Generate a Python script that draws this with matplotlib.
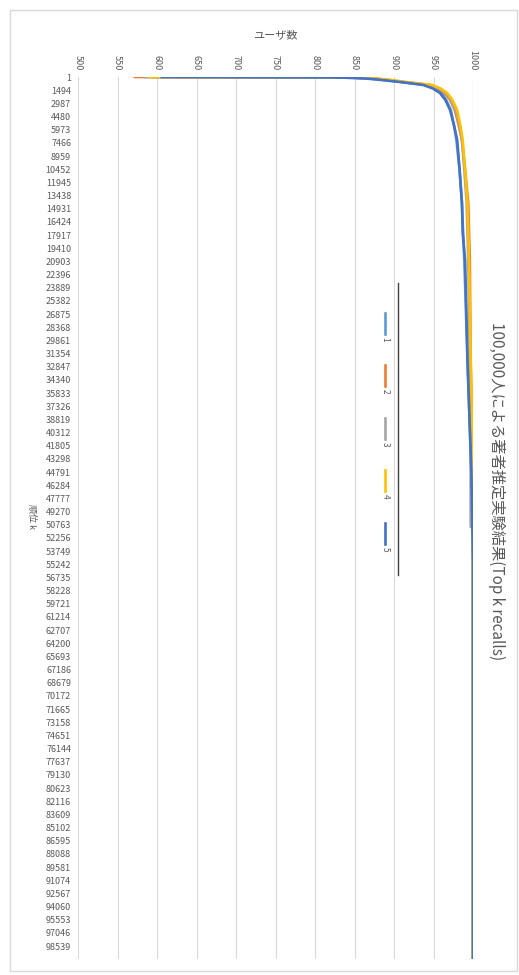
import matplotlib
matplotlib.use("Agg")
import matplotlib.pyplot as plt
from matplotlib.lines import Line2D
from matplotlib.patches import Rectangle

plt.rcParams['font.family'] = ['Noto Sans CJK JP', 'DejaVu Sans']

title = "100,000人による著者推定実験結果(Top k recalls)"
x_title = "ユーザ数"
y_title = "順位 k"

# rank k at which values were read
k1 = [1, 50, 100, 200, 300, 570, 900, 1300, 1800, 2600, 3750, 5500, 7150, 10500, 14300, 20800, 32000, 40000, 45000, 52000, 100000]
k2 = [1, 50, 100, 200, 300, 570, 900, 1300, 1800, 2600, 3750, 5500, 7150, 10500, 14300, 20800, 32000, 40000, 42000, 100000]
k3 = [1, 50, 100, 200, 300, 570, 900, 1300, 1800, 2600, 3750, 5500, 7150, 10500, 14300, 20800, 32000, 40000, 51000, 51100, 100000]
k4 = [1, 50, 100, 200, 300, 570, 900, 1300, 1800, 2600, 3750, 5500, 7150, 10500, 14300, 20800, 32000, 40000, 41500, 100000]
k5 = [1, 50, 100, 200, 300, 570, 900, 1300, 1800, 2600, 3750, 5500, 7150, 10500, 14300, 17700, 20800, 32000, 39700, 45000, 50000, 55000, 100000]

# number of users found within top k
s1 = [598, 820, 852, 872, 884, 910, 940, 951, 960, 966, 972, 976, 979, 983, 986, 989, 993, 996, 998, 1000, 1000]
s2 = [572, 825, 858, 878, 890, 912, 945, 956, 964, 971, 977, 982, 986, 990, 994, 996, 997, 999, 1000, 1000]
s3 = [585, 822, 855, 875, 888, 912, 946, 957, 966, 972, 978, 983, 986, 989, 992, 994, 996, 997, 997, 1000, 1000]
s4 = [590, 828, 860, 880, 893, 915, 948, 959, 967, 974, 980, 984, 987, 990, 993, 995, 997, 999, 1000, 1000]
s5 = [606, 818, 850, 868, 880, 908, 937, 949, 958, 965, 971, 976, 980, 983, 986, 987, 990, 993, 996, 998, 999, 1000, 1000]

series_names = ["1", "2", "3", "4", "5"]
colors = ["#5B9BD5", "#ED7D31", "#A5A5A5", "#FFC000", "#4472C4"]

x_ticks = [500, 550, 600, 650, 700, 750, 800, 850, 900, 950, 1000]
y_ticks = list(range(1, 100000, 1493))

W, H = 519, 975
fig = plt.figure(figsize=(W / 100, H / 100), dpi=100)

def fx(x):
    return x / W

def fy(y):
    return 1 - y / H

# chart border
fig.patches.append(Rectangle((fx(10), fy(971)), fx(507), (961) / H, transform=fig.transFigure,
                             fill=False, edgecolor="#D9D9D9", linewidth=1))

ax = fig.add_axes([fx(78), fy(959), fx(473) - fx(78), (959 - 77) / H])

ks = [k1, k2, k3, k4, k5]
ss = [s1, s2, s3, s4, s5]
for k, s, c in zip(ks, ss, colors):
    ax.plot(s, k, color=c, linewidth=1.9, solid_joinstyle="round")

ax.set_xlim(500, 1000)
ax.set_ylim(100000, 0)
ax.xaxis.tick_top()
ax.set_xticks(x_ticks)
ax.set_xticklabels([str(v) for v in x_ticks], rotation=270, fontsize=6.5, color="#595959")
ax.set_yticks(y_ticks)
ax.set_yticklabels([str(v) for v in y_ticks], fontsize=6.5, color="#595959")
ax.tick_params(length=0, pad=5)
ax.grid(axis="x", color="#D9D9D9", linewidth=0.8)
ax.set_axisbelow(True)
for sp in ax.spines.values():
    sp.set_visible(False)

fig.text(fx(275), fy(35), x_title, ha="center", va="center", fontsize=8, color="#595959")
fig.text(fx(32), fy(516), y_title, ha="center", va="center", rotation=270, fontsize=6.5, color="#595959")
fig.text(fx(497), fy(491), title, ha="center", va="center", rotation=270, fontsize=11, color="#595959")

# legend (rotated)
fig.lines.append(Line2D([fx(398), fx(398)], [fy(283), fy(575)], transform=fig.transFigure,
                        color="#404040", linewidth=1))
leg_y = [313, 365, 418, 470, 523]
for name, c, y0 in zip(series_names, colors, leg_y):
    fig.lines.append(Line2D([fx(385), fx(385)], [fy(y0), fy(y0 + 21)], transform=fig.transFigure,
                            color=c, linewidth=1.9))
    fig.text(fx(385), fy(y0 + 26), name, ha="center", va="center", rotation=270,
             fontsize=6, color="#595959")

fig.savefig("out.png", dpi=100)
